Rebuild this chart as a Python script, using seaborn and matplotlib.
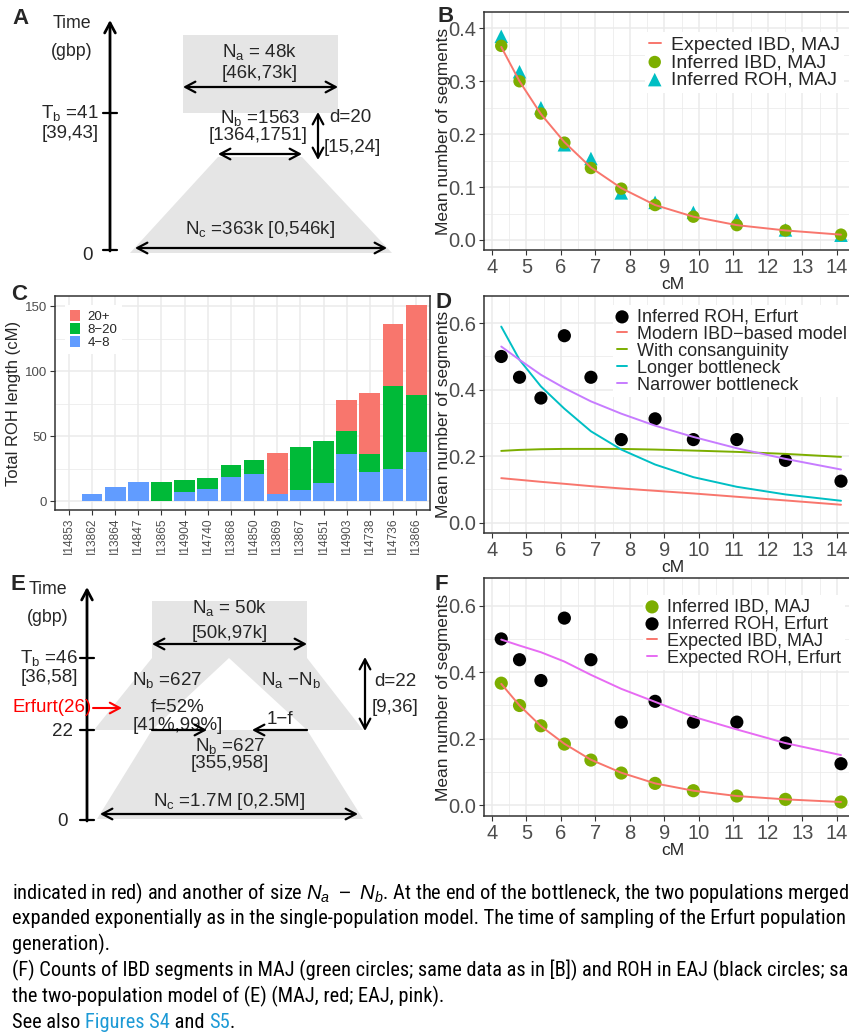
import numpy as np
import pandas as pd
import matplotlib
matplotlib.use("Agg")
import matplotlib.pyplot as plt
from matplotlib.patches import Polygon, Rectangle, Patch
from matplotlib.ticker import MultipleLocator, FixedLocator, FormatStrFormatter
from matplotlib import font_manager
import seaborn as sns

# ---- data ----
cm_bins = [4.27, 4.80, 5.42, 6.10, 6.87, 7.75, 8.73, 9.84, 11.10, 12.51, 14.12]
ibd_maj = [0.367, 0.300, 0.239, 0.184, 0.136, 0.097, 0.066, 0.044, 0.028, 0.018, 0.010]
roh_maj = [0.385, 0.318, 0.250, 0.180, 0.154, 0.089, 0.071, 0.052, 0.038, 0.019, 0.009]
exp_ibd_maj = [0.365, 0.300, 0.238, 0.185, 0.137, 0.098, 0.066, 0.044, 0.028, 0.018, 0.010]
roh_erfurt = [0.5, 0.4375, 0.375, 0.5625, 0.4375, 0.25, 0.3125, 0.25, 0.25, 0.1875, 0.125]
model_modern = [0.134, 0.129, 0.123, 0.117, 0.110, 0.103, 0.096, 0.088, 0.078, 0.067, 0.054]
model_consang = [0.216, 0.219, 0.221, 0.222, 0.222, 0.222, 0.220, 0.217, 0.213, 0.207, 0.198]
model_longer = [0.590, 0.490, 0.410, 0.343, 0.275, 0.220, 0.175, 0.137, 0.108, 0.085, 0.066]
model_narrower = [0.530, 0.490, 0.445, 0.405, 0.365, 0.328, 0.292, 0.258, 0.224, 0.192, 0.160]
exp_roh_erfurt = [0.498, 0.480, 0.460, 0.432, 0.392, 0.350, 0.311, 0.266, 0.228, 0.187, 0.151]

samples = ['I14853', 'I13862', 'I13864', 'I14847', 'I13865', 'I14904', 'I14740', 'I13868',
           'I14850', 'I13869', 'I13867', 'I14851', 'I14903', 'I14738', 'I14736', 'I13866']
roh_4_8 = [0.4, 5.6, 10.8, 14.6, 0.3, 7.2, 9.2, 18.5, 21.0, 5.6, 8.5, 14.1, 36.3, 22.3, 24.6, 37.6]
roh_8_20 = [0, 0, 0, 0, 14.6, 9.0, 8.5, 9.2, 10.5, 0, 33.0, 32.1, 17.5, 13.9, 63.9, 43.7]
roh_20p = [0, 0, 0, 0, 0, 0, 0, 0, 0, 31.3, 0, 0, 23.9, 46.9, 47.7, 69.5]
roh_classes = ['20+', '8\u221220', '4\u22128']

RED, OLIVE, CYAN, PURPLE, PINK = '#F8766D', '#7CAE00', '#00BFC4', '#C77CFF', '#E76BF3'
GREEN3, BLUE3 = '#00BA38', '#619CFF'
GRAY = '#E5E5E5'

sns.set_theme(style="whitegrid")
plt.rcParams['font.family'] = ['Liberation Sans', 'DejaVu Sans']
plt.rcParams['mathtext.fontset'] = 'custom'
plt.rcParams['mathtext.rm'] = 'Liberation Sans'
plt.rcParams['mathtext.it'] = 'Liberation Sans:italic'
plt.rcParams['mathtext.bf'] = 'Liberation Sans:bold'

# caption font: a narrow face if one is installed
fl = font_manager.fontManager.ttflist
cap_font, cap_stretch = 'Liberation Sans', 'normal'
for name, stretch in [('Liberation Sans Narrow', None), ('Roboto Condensed', None),
                      ('Noto Sans', 'condensed'), ('Noto Sans', 'semi-condensed'),
                      ('DejaVu Sans', 'condensed'), ('Noto Sans Condensed', None)]:
    if any(f.name == name and (stretch is None or f.stretch == stretch) and f.style == 'normal'
           for f in fl):
        cap_font, cap_stretch = name, (stretch or 'normal')
        break

W, H = 849, 1035
fig = plt.figure(figsize=(W / 100, H / 100), dpi=100)
fig.patch.set_facecolor('white')


def box(l, t, r, b):
    return [l / W, 1 - b / H, (r - l) / W, (b - t) / H]


def fx(x):
    return x / W


def fy(y):
    return 1 - y / H


# overlay for diagrams, letters and caption (pixel coordinates)
dg = fig.add_axes([0, 0, 1, 1])
dg.set_xlim(0, W)
dg.set_ylim(H, 0)
dg.axis('off')


def gg(ax, ymaj, ymin, tick_size=14.5):
    ax.set_facecolor('white')
    for s in ax.spines.values():
        s.set_visible(True)
        s.set_color('#333333')
        s.set_linewidth(1.1)
    ax.xaxis.set_minor_locator(MultipleLocator(0.5))
    ax.xaxis.set_major_locator(MultipleLocator(1))
    ax.yaxis.set_major_locator(MultipleLocator(ymaj))
    ax.yaxis.set_minor_locator(MultipleLocator(ymin))
    ax.grid(which='major', color='#EBEBEB', lw=1.1)
    ax.grid(which='minor', color='#EBEBEB', lw=0.55)
    ax.set_axisbelow(True)
    ax.tick_params(which='major', length=3.5, width=0.8, color='#333333',
                   labelcolor='#4D4D4D', labelsize=tick_size, pad=2, bottom=True, left=True)
    ax.tick_params(which='minor', length=0)
    ax.yaxis.set_major_formatter(FormatStrFormatter('%.1f'))
    ax.set_xlabel('cM', fontsize=12.5, labelpad=0)
    ax.set_ylabel('Mean number of segments', fontsize=12.5, labelpad=-2)


def put_legend(ax, order, x, y, fs):
    h, l = ax.get_legend_handles_labels()
    d = dict(zip(l, h))
    ax.legend([d[k] for k in order], order, loc='upper left',
              bbox_to_anchor=(fx(x), fy(y)), bbox_transform=fig.transFigure,
              fontsize=fs, frameon=True, facecolor='white', edgecolor='none',
              framealpha=1, fancybox=False, borderpad=0.2, handlelength=0.6,
              handletextpad=0.55, labelspacing=0.0, borderaxespad=0)


# ---- panel B ----
axB = fig.add_axes(box(484, 12, 861, 250))
sns.scatterplot(x=cm_bins, y=roh_maj, ax=axB, color=CYAN, marker='^', s=95,
                edgecolor='none', label='Inferred ROH, MAJ', zorder=2)
sns.scatterplot(x=cm_bins, y=ibd_maj, ax=axB, color=OLIVE, s=80,
                edgecolor='none', label='Inferred IBD, MAJ', zorder=3)
sns.lineplot(x=cm_bins, y=exp_ibd_maj, ax=axB, color=RED, lw=1.4,
             label='Expected IBD, MAJ', zorder=4)
gg(axB, 0.1, 0.05)
axB.set_xlim(3.77, 14.70)
axB.set_ylim(-0.019, 0.431)
put_legend(axB, ['Expected IBD, MAJ', 'Inferred IBD, MAJ', 'Inferred ROH, MAJ'], 645, 32, 14)

# ---- panel D ----
axD = fig.add_axes(box(484, 296, 861, 533))
sns.scatterplot(x=cm_bins, y=roh_erfurt, ax=axD, color='black', s=90,
                edgecolor='none', label='Inferred ROH, Erfurt', zorder=2)
for vals, colr, lab in [(model_modern, RED, 'Modern IBD\u2212based model'),
                        (model_consang, OLIVE, 'With consanguinity'),
                        (model_longer, CYAN, 'Longer bottleneck'),
                        (model_narrower, PURPLE, 'Narrower bottleneck')]:
    sns.lineplot(x=cm_bins, y=vals, ax=axD, color=colr, lw=1.4, label=lab, zorder=3)
gg(axD, 0.2, 0.1)
axD.set_xlim(3.77, 14.70)
axD.set_ylim(-0.031, 0.682)
put_legend(axD, ['Inferred ROH, Erfurt', 'Modern IBD\u2212based model', 'With consanguinity',
                 'Longer bottleneck', 'Narrower bottleneck'], 613, 305, 13)

# ---- panel F ----
axF = fig.add_axes(box(484, 578, 861, 816))
sns.scatterplot(x=cm_bins, y=ibd_maj, ax=axF, color=OLIVE, s=90,
                edgecolor='none', label='Inferred IBD, MAJ', zorder=2)
sns.scatterplot(x=cm_bins, y=roh_erfurt, ax=axF, color='black', s=90,
                edgecolor='none', label='Inferred ROH, Erfurt', zorder=2)
sns.lineplot(x=cm_bins, y=exp_ibd_maj, ax=axF, color=RED, lw=1.4,
             label='Expected IBD, MAJ', zorder=3)
sns.lineplot(x=cm_bins, y=exp_roh_erfurt, ax=axF, color=PINK, lw=1.4,
             label='Expected ROH, Erfurt', zorder=3)
gg(axF, 0.2, 0.1)
axF.set_xlim(3.77, 14.70)
axF.set_ylim(-0.032, 0.683)
put_legend(axF, ['Inferred IBD, MAJ', 'Inferred ROH, Erfurt', 'Expected IBD, MAJ',
                 'Expected ROH, Erfurt'], 643, 595, 13)

# ---- panel C ----
axC = fig.add_axes(box(55, 296, 430, 510))
df_c = pd.DataFrame({'sample': samples, 'low': roh_4_8, 'b': roh_8_20, 'c': roh_20p})
df_c['mid'] = df_c['low'] + df_c['b']
df_c['top'] = df_c['mid'] + df_c['c']
for col, colr in [('top', RED), ('mid', GREEN3), ('low', BLUE3)]:
    sns.barplot(data=df_c, x='sample', y=col, color=colr, width=0.9, saturation=1,
                order=samples, linewidth=0, errorbar=None, ax=axC)
for s in axC.spines.values():
    s.set_visible(True)
    s.set_color('#333333')
    s.set_linewidth(1.1)
axC.set_facecolor('white')
axC.yaxis.set_major_locator(FixedLocator([0, 50, 100, 150]))
axC.yaxis.set_minor_locator(FixedLocator([25, 75, 125]))
axC.grid(which='major', color='#EBEBEB', lw=1.1)
axC.grid(which='minor', axis='y', color='#EBEBEB', lw=0.55)
axC.set_axisbelow(True)
axC.set_xlim(-0.6, 15.6)
axC.set_ylim(-6.9, 157.9)
axC.tick_params(which='major', length=3.5, width=0.8, color='#333333',
                labelcolor='#4D4D4D', labelsize=9.5, pad=2, bottom=True, left=True)
axC.tick_params(axis='x', labelrotation=90, labelsize=8.6)
axC.tick_params(which='minor', length=0)
axC.set_xlabel('')
axC.set_ylabel('Total ROH length (cM)', fontsize=12, labelpad=3)
axC.legend([Patch(facecolor=c, edgecolor='none') for c in (RED, GREEN3, BLUE3)], roh_classes,
           loc='upper left', bbox_to_anchor=(fx(65), fy(305)), bbox_transform=fig.transFigure,
           fontsize=9.5, frameon=True, facecolor='white', edgecolor='none', framealpha=1,
           fancybox=False, borderpad=0.35, handlelength=0.75, handleheight=0.95,
           handletextpad=0.6, labelspacing=0.0, borderaxespad=0)


# ---- diagrams ----
def arr(x1, y1, x2, y2, style='<->', lw=1.6, color='black'):
    dg.annotate('', xy=(x2, y2), xytext=(x1, y1),
                arrowprops=dict(arrowstyle=style + ',head_length=0.6,head_width=0.32',
                                lw=lw, color=color, shrinkA=0, shrinkB=0))


def txt(x, y, s, size=13.5, **kw):
    dg.text(x, y, s, fontsize=size, ha=kw.pop('ha', 'center'), va=kw.pop('va', 'center'), **kw)


def letter(x, y, s):
    dg.text(x, y, s, fontsize=16, fontweight='bold', ha='center', va='center')


# panel A
dg.add_patch(Rectangle((183, 35), 155, 78, fc=GRAY, ec='none'))
dg.add_patch(Polygon([(218, 157), (302, 157), (392, 253), (130, 253)], fc=GRAY, ec='none'))
arr(110, 251, 110, 20, '->', lw=2)
dg.plot([103, 117], [113, 113], color='black', lw=1.6)
dg.plot([103, 117], [250, 250], color='black', lw=1.6)
letter(21, 18, 'A')
txt(72, 23, 'Time', 12.8)
txt(72, 52, '(gbp)', 12.8)
txt(70, 113, r'T$_{\rm b}$ =41')
txt(70, 133, '[39,43]')
txt(88, 255, '0')
txt(260, 52, r'N$_{\rm a}$ = 48k')
txt(260, 73, '[46k,73k]')
arr(183, 87, 338, 87)
txt(260, 118, r'N$_{\rm b}$ =1563')
txt(258, 136, '[1364,1751]')
arr(218, 154, 302, 154)
arr(318, 112, 318, 160)
txt(350, 118, 'd=20')
txt(352, 147, '[15,24]')
txt(260, 230, r'N$_{\rm c}$ =363k [0,546k]')
arr(135, 248, 387, 248)

# panel E
dg.add_patch(Rectangle((152, 601), 155, 57, fc=GRAY, ec='none'))
dg.add_patch(Polygon([(152, 658), (229, 658), (152, 730), (94, 730)], fc=GRAY, ec='none'))
dg.add_patch(Polygon([(229, 658), (307, 658), (363, 730), (307, 730)], fc=GRAY, ec='none'))
dg.add_patch(Polygon([(152, 730), (307, 730), (363, 819), (97, 819)], fc=GRAY, ec='none'))
arr(87, 821, 87, 587, '->', lw=2)
for yy in (658, 730, 820):
    dg.plot([80, 94], [yy, yy], color='black', lw=1.6)
letter(18, 584, 'E')
txt(48, 589, 'Time', 12.8)
txt(48, 617, '(gbp)', 12.8)
txt(49, 658, r'T$_{\rm b}$ =46')
txt(49, 678, '[36,58]')
txt(52, 708, 'Erfurt(26)', color='#FF0000')
arr(93, 708, 122, 708, '->', lw=1.5, color='#FF0000')
txt(63, 731, '22')
txt(63, 821, '0')
txt(230, 608, r'N$_{\rm a}$ = 50k')
txt(230, 633, '[50k,97k]')
arr(152, 644, 307, 644)
txt(167, 680, r'N$_{\rm b}$ =627')
txt(291, 680, r'N$_{\rm a}$ $-$N$_{\rm b}$')
txt(178, 707, 'f=52%')
txt(178, 725, '[41%,99%]')
arr(152, 730, 207, 730, '->')
txt(280, 720, '1\u2212f')
arr(307, 730, 252, 730, '->')
txt(230, 746, r'N$_{\rm b}$ =627')
txt(230, 764, '[355,958]')
txt(229, 802, r'N$_{\rm c}$ =1.7M [0,2.5M]')
arr(100, 814, 358, 814)
arr(365, 657, 365, 731)
txt(395, 682, 'd=22')
txt(395, 708, '[9,36]')

letter(446, 17, 'B')
letter(19, 294, 'C')
letter(444, 302, 'D')
letter(441, 584, 'F')

# ---- caption ----
renderer = fig.canvas.get_renderer()
CAP = 14.0


def width(s, size=None):
    t = dg.text(0, 0, s, fontsize=size or CAP, family=[cap_font, 'DejaVu Sans'],
                fontstretch=cap_stretch)
    w = t.get_window_extent(renderer=renderer).width
    t.remove()
    return w


# size the caption so that line (F) reaches the right edge at the same letter
CAP = min(15.0, 14.0 * 831 / width('(F) Counts of IBD segments in MAJ (green circles; same data as '
                                   'in [B]) and ROH in EAJ (black circles; s', 14.0))


def cap_line(y, parts):
    full = ''
    for s, colr in parts:
        x = 12 + (width(full + 'I') - width('I') if full else 0)
        dg.text(x, y, s, fontsize=CAP, family=[cap_font, 'DejaVu Sans'], fontstretch=cap_stretch,
                color=colr, ha='left', va='center')
        full += s


cap_line(893, [(r'indicated in red) and another of size $N_a\ -\ N_b$. At the end of the bottleneck, '
                r'the two populations merged', 'black')])
cap_line(918, [('expanded exponentially as in the single-population model. The time of sampling of '
                'the Erfurt population', 'black')])
cap_line(944, [('generation).', 'black')])
cap_line(970, [('(F) Counts of IBD segments in MAJ (green circles; same data as in [B]) and ROH in EAJ '
                '(black circles; same', 'black')])
cap_line(996, [('the two-population model of (E) (MAJ, red; EAJ, pink).', 'black')])
cap_line(1022, [('See also ', 'black'), ('Figures S4', '#1D9AD6'), (' and ', 'black'),
                ('S5', '#1D9AD6'), ('.', 'black')])

fig.savefig('out.png', dpi=100, facecolor='white')
